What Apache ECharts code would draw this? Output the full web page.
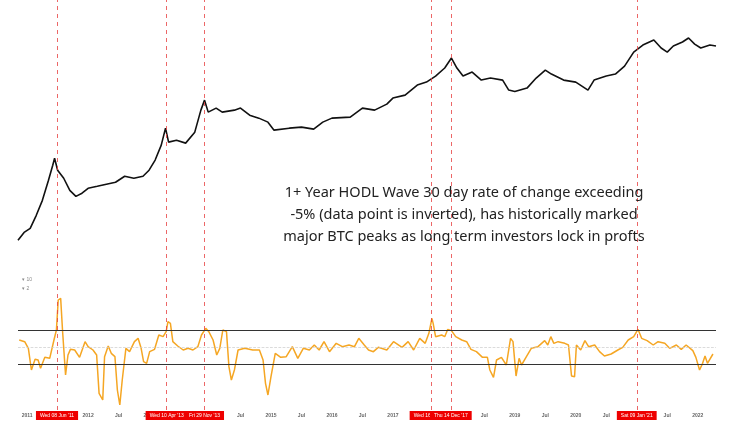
<!DOCTYPE html>
<html><head><meta charset="utf-8">
<script src="https://cdn.jsdelivr.net/npm/echarts@6/dist/echarts.min.js"></script>
<style>html,body{margin:0;padding:0;background:#fff}#c{width:736px;height:425px}</style>
</head><body><div id="c"></div>
<script>
const priceYears = [2010.85,2010.95,2011.05,2011.15,2011.25,2011.35,2011.42,2011.45,2011.5,2011.6,2011.7,2011.8,2011.9,2012.0,2012.15,2012.3,2012.45,2012.6,2012.75,2012.9,2013.0,2013.1,2013.2,2013.27,2013.32,2013.45,2013.6,2013.75,2013.85,2013.91,2013.97,2014.1,2014.2,2014.4,2014.5,2014.65,2014.8,2014.95,2015.05,2015.3,2015.5,2015.7,2015.85,2016.0,2016.3,2016.5,2016.7,2016.9,2017.0,2017.2,2017.4,2017.55,2017.7,2017.85,2017.96,2018.05,2018.15,2018.3,2018.45,2018.6,2018.8,2018.9,2019.0,2019.2,2019.35,2019.5,2019.6,2019.8,2020.0,2020.2,2020.3,2020.5,2020.65,2020.8,2020.95,2021.1,2021.28,2021.4,2021.5,2021.6,2021.75,2021.85,2021.95,2022.05,2022.2,2022.3];
const priceValues = [0.3,0.49,0.63,1.42,3.6,12.6,32,49,23.4,14.2,6.7,4.6,5.6,7.6,8.6,9.8,11.1,16.1,14.2,16.1,23.4,44,111,319,134,151,126,249,978,1820,864,1110,864,978,1110,717,595,464,282,319,340,300,464,595,633,1110,978,1420,2070,2490,4640,5590,8120,13400,24900,13400,8120,10400,6330,7170,6330,3400,3100,3850,7170,11800,9200,6330,5590,3400,6330,8120,9200,15100,36100,55900,76300,46400,36100,52500,67400,86400,59400,46400,55900,52500];
const oscYears = [2010.87,2010.96,2011.02,2011.07,2011.13,2011.18,2011.22,2011.29,2011.37,2011.44,2011.48,2011.51,2011.55,2011.58,2011.63,2011.67,2011.71,2011.78,2011.86,2011.95,2012.0,2012.08,2012.14,2012.18,2012.24,2012.27,2012.33,2012.38,2012.44,2012.48,2012.52,2012.56,2012.62,2012.68,2012.76,2012.82,2012.87,2012.91,2012.96,2013.01,2013.09,2013.16,2013.23,2013.28,2013.31,2013.35,2013.39,2013.47,2013.56,2013.64,2013.72,2013.8,2013.86,2013.93,2013.98,2014.05,2014.11,2014.16,2014.21,2014.27,2014.31,2014.35,2014.4,2014.46,2014.57,2014.7,2014.81,2014.87,2014.91,2014.95,2015.0,2015.07,2015.16,2015.25,2015.35,2015.44,2015.53,2015.63,2015.71,2015.79,2015.87,2015.96,2016.07,2016.17,2016.28,2016.37,2016.44,2016.53,2016.6,2016.68,2016.76,2016.9,2017.01,2017.15,2017.25,2017.34,2017.44,2017.53,2017.59,2017.64,2017.66,2017.7,2017.8,2017.85,2017.9,2017.96,2018.03,2018.13,2018.21,2018.28,2018.37,2018.47,2018.55,2018.59,2018.65,2018.7,2018.78,2018.86,2018.93,2018.97,2019.02,2019.07,2019.11,2019.19,2019.27,2019.38,2019.49,2019.54,2019.59,2019.64,2019.71,2019.82,2019.88,2019.93,2019.98,2020.01,2020.08,2020.15,2020.21,2020.31,2020.39,2020.47,2020.58,2020.69,2020.77,2020.86,2020.95,2021.02,2021.08,2021.17,2021.27,2021.35,2021.46,2021.54,2021.65,2021.73,2021.81,2021.92,2021.97,2022.03,2022.08,2022.12,2022.16,2022.25];
const oscValues = [2.2,1.7,-0.3,-6.8,-3.6,-3.8,-6.3,-3,-3.3,2.2,5.2,14.2,14.7,5.2,-8.3,-2.3,-0.6,-0.8,-3,1.7,0.2,-0.8,-2.3,-13.8,-15.8,-2.8,0.4,-1.8,-2.8,-12.8,-17.3,-9.8,-0.3,-1.3,1.7,2.7,-0.3,-4.3,-4.8,-1.3,-0.6,3.7,3.2,4.7,7.7,7.2,1.7,0.4,-0.8,-0.3,-0.8,0.2,3.7,5.7,4.7,2.2,-2.3,-0.3,5.2,4.7,-5.8,-9.8,-6.8,-0.8,-0.3,-0.8,-0.8,-3.8,-10.8,-14.3,-8.8,-1.8,-3,-2.8,0.2,-3.3,-0.3,-0.8,0.7,-0.8,1.7,-1.3,1.2,0.2,0.7,0.2,2.7,0.7,-0.8,-1.3,0,-0.8,1.7,0,1.7,-0.8,2.7,1.2,4.2,8.7,7.2,3.2,3.7,3.2,5.4,5,3.2,2.2,1.7,-0.6,-1.3,-3,-3,-6.8,-9,-3.8,-3,-5.3,2.7,1.7,-8.6,-3.3,-5.3,-2.8,-0.3,0.2,2,0.7,3.2,1.2,1.7,1.2,0.7,-8.6,-8.8,0.7,-0.8,2,0.2,0.7,-1.3,-2.6,-2,-0.8,0,2.2,3.2,5.4,2.7,2,0.7,1.7,1.2,-0.3,0.7,-0.6,0.7,-1,-3,-6.8,-4.8,-2.6,-4.8,-2];
const markerYears = [2011.49,2013.29,2013.91,2017.63,2017.95,2021.0];
const markerLabels = ["Wed 08 Jun '11","Wed 10 Apr '13","Fri 29 Nov '13","Wed 16 Aug '17","Thu 14 Dec '17","Sat 09 Jan '21"];
const bandLevels = [5,-5];
const tickYears = [2011,2011.5,2012,2012.5,2013,2013.5,2014,2014.5,2015,2015.5,2016,2016.5,2017,2017.5,2018,2018.5,2019,2019.5,2020,2020.5,2021,2021.5,2022];
const annotation = "1+ Year HODL Wave 30 day rate of change exceeding\n-5% (data point is inverted), has historically marked\nmajor BTC peaks as long term investors lock in profts";

const pair = (xs, ys) => xs.map((x, i) => [x, ys[i]]);
const chart = echarts.init(document.getElementById('c'));
const xMin = 2010.85, xMax = 2022.3;
chart.setOption({
  animation: false,
  title: { text: annotation, left: 459, top: 177, textAlign: 'center',
    textStyle: { fontFamily: 'Noto Sans', fontSize: 14.5, fontWeight: 'normal', color: '#222', lineHeight: 22 } },
  graphic: [
    { type: 'text', left: 22, top: 277, style: { text: '▾ 10', fontSize: 5, fill: '#888' } },
    { type: 'text', left: 22, top: 286, style: { text: '▾ 2', fontSize: 5, fill: '#888' } }
  ],
  grid: [
    { left: 18, right: 20, top: 0, height: 258 },
    { left: 18, right: 20, top: 258, height: 152 }
  ],
  xAxis: [
    { type: 'value', gridIndex: 0, min: xMin, max: xMax, show: false },
    { type: 'value', gridIndex: 1, min: xMin, max: xMax,
      axisLine: { show: false }, axisTick: { show: false }, splitLine: { show: false },
      axisLabel: { customValues: tickYears, fontSize: 5, color: '#666', margin: 3, fontWeight: 'bold',
        formatter: v => (Math.abs(v - Math.round(v)) < 0.01 ? String(Math.round(v)) : 'Jul') } }
  ],
  yAxis: [
    { type: 'log', gridIndex: 0, min: 0.1, max: 918000, show: false },
    { type: 'value', gridIndex: 1, min: -18.8, max: 26.8, show: false }
  ],
  series: [
    { type: 'line', xAxisIndex: 0, yAxisIndex: 0, data: pair(priceYears, priceValues), symbol: 'none',
      lineStyle: { color: '#111', width: 1.6 } },
    { type: 'line', xAxisIndex: 1, yAxisIndex: 1, data: pair(oscYears, oscValues), symbol: 'none',
      lineStyle: { color: '#f5a623', width: 1.5 },
      markLine: { symbol: 'none', silent: true,
        data: [
          ...bandLevels.map(v => ({ yAxis: v, lineStyle: { color: '#333', type: 'solid', width: 1.2 }, label: { show: false } })),
          { yAxis: 0, lineStyle: { color: '#ccc', type: 'dashed', width: 0.7 }, label: { show: false } },
          ...markerYears.map((x, i) => ({ xAxis: x, lineStyle: { color: '#e84040', type: [4, 4], width: 0.8 },
            label: { show: true, position: 'start', formatter: markerLabels[i], fontSize: 5, color: '#fff',
              backgroundColor: '#e00', padding: [2, 4], distance: 1 } }))
        ] } },
    { type: 'line', xAxisIndex: 0, yAxisIndex: 0, data: [], symbol: 'none',
      markLine: { symbol: 'none', silent: true, label: { show: false },
        lineStyle: { color: '#e84040', type: [4, 4], width: 0.8 },
        data: markerYears.map(x => ({ xAxis: x })) } }
  ]
});
</script></body></html>
